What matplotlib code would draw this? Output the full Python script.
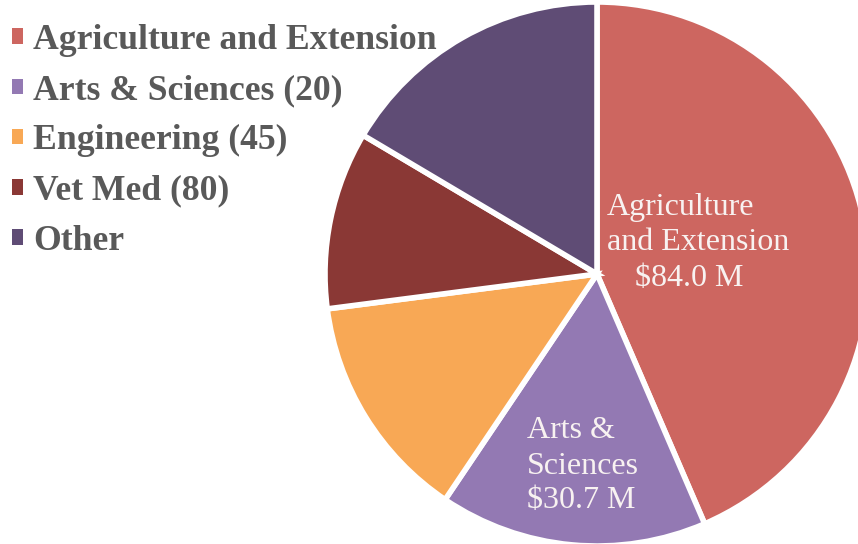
import matplotlib
matplotlib.use('Agg')
import matplotlib.pyplot as plt

# ── Données ───────────────────────────────────────────────────────────────────
categories = ['Agriculture and Extension', 'Arts & Sciences (20)', 'Engineering (45)',
              'Vet Med (80)', 'Other']
values     = [84.0, 30.7, 26.1, 20.4, 31.8]
colors     = ['#CD6660', '#9379B3', '#F8A855', '#8A3835', '#5F4C75']

fig = plt.figure(figsize=(8.58, 5.44), dpi=100)
ax = fig.add_axes([0, 0, 1, 1])
ax.set_aspect('equal')

wedges, _ = ax.pie(values, colors=colors, startangle=90, counterclock=False,
                   center=(597, 270), radius=272, frame=True,
                   wedgeprops=dict(edgecolor='white', linewidth=4))
ax.set_xlim(0, 858)
ax.set_ylim(0, 544)
ax.axis('off')

# Étiquettes dans les secteurs
lab = dict(color='#F8F2F1', fontsize=23, family='Liberation Serif', va='center')
ax.text(607, 336, 'Agriculture', ha='left', **lab)
ax.text(607, 301, 'and Extension', ha='left', **lab)
ax.text(689, 266, f'${values[0]:.1f} M', ha='center', **lab)

ax.text(527, 114, 'Arts &', ha='left', **lab)
ax.text(527, 78, 'Sciences', ha='left', **lab)
ax.text(527, 43, f'${values[1]:.1f} M', ha='left', **lab)

# Légende
leg = ax.legend(wedges, categories, loc='upper left', bbox_to_anchor=(-0.011, 0.995),
                frameon=False, handlelength=0.3, handleheight=0.3, handletextpad=0.3,
                labelspacing=0.48, borderaxespad=0.2,
                prop=dict(family='Liberation Serif', weight='bold', size=25.7),
                labelcolor='#595959')
for h in leg.legend_handles:
    h.set_linewidth(0)

plt.savefig('out.png', dpi=100)
